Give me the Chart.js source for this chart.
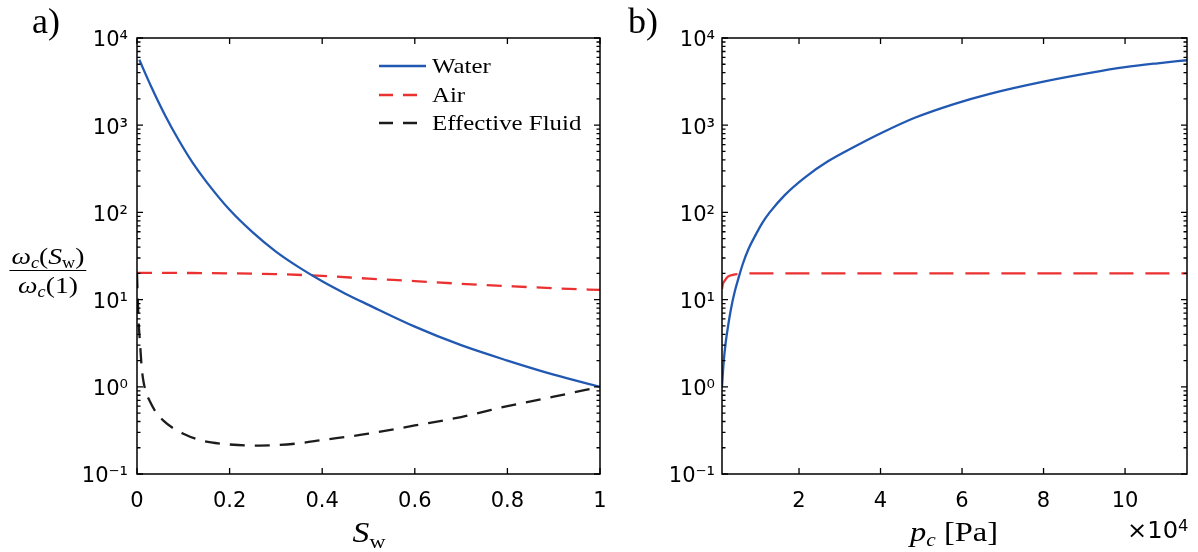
<!DOCTYPE html>
<html><head><meta charset="utf-8">
<script src="https://cdn.jsdelivr.net/npm/chart.js@4.4.1/dist/chart.umd.min.js"></script>
<style>
html,body{margin:0;padding:0;background:#fff;width:1198px;height:552px;overflow:hidden;position:relative;font-family:"Liberation Serif",serif;color:#000;}
#wa{position:absolute;left:0;top:0;width:610px;height:552px;}
#wb{position:absolute;left:610px;top:0;width:588px;height:552px;}
.lbl{position:absolute;white-space:nowrap;color:#000;line-height:1;}
.sub{font-size:66%;position:relative;top:0.28em;}
#legend{position:absolute;left:379px;top:52px;font-family:"Liberation Serif",serif;font-size:22px;}
#legend .row{height:28.5px;display:flex;align-items:center;}
#legend canvas{margin-right:6px;}
#legend span{display:inline-block;transform:scaleX(1.13);transform-origin:left center;}
</style></head><body>
<div id="wa"><canvas id="ca"></canvas></div>
<div id="wb"><canvas id="cb"></canvas></div>
<div class="lbl" style="left:32px;top:3px;font-size:36px;">a)</div>
<div class="lbl" style="left:628px;top:3px;font-size:36px;">b)</div>
<div class="lbl" style="left:48px;top:244px;font-size:24px;text-align:center;transform:translateX(-50%) scaleX(1.15);">
  <div style="padding:0 2px 2px 2px;"><i>ω</i><span class="sub"><i>c</i></span>(<i>S</i><span class="sub">w</span>)</div>
  <div style="border-top:1.4px solid #000;padding-top:2px;"><i>ω</i><span class="sub"><i>c</i></span>(1)</div>
</div>
<div class="lbl" style="left:369px;top:517px;font-size:30px;transform:translateX(-50%) scaleX(1.12);"><i>S</i><span class="sub">w</span></div>
<div class="lbl" style="left:954px;top:518px;font-size:28px;transform:translateX(-50%) scaleX(1.16);"><i>p</i><span class="sub"><i>c</i></span> [Pa]</div>
<div class="lbl" style="right:10px;top:518px;font-size:23px;font-family:'DejaVu Sans',sans-serif;transform:scaleX(1.05);transform-origin:right top;">×10<sup style="font-size:68%;vertical-align:0.45em;">4</sup></div>
<div id="legend"></div>
<script>
// ---------- data ----------
const seriesNames = ['Water', 'Air', 'Effective Fluid'];

const swWater = [0.005, 0.03, 0.06, 0.09, 0.12, 0.15, 0.2, 0.25, 0.3, 0.35, 0.4, 0.45, 0.5, 0.6, 0.7, 0.8, 0.9, 1.0];
const waterA  = [5620, 2820, 1320, 676, 372, 224, 107, 58.9, 35.5, 23.4, 16.2, 11.7, 8.7, 4.9, 3.0, 2.0, 1.38, 1.0];

const swAir = [0, 0.1, 0.2, 0.3, 0.4, 0.5, 0.6, 0.7, 0.8, 0.9, 1.0];
const airA  = [20.3, 20.2, 20.0, 19.6, 18.7, 17.4, 16.3, 15.2, 14.3, 13.5, 12.9];

const swEff = [0, 0.002, 0.004, 0.0065, 0.01, 0.014, 0.02, 0.028, 0.04, 0.057, 0.08, 0.1, 0.13, 0.16, 0.2, 0.25, 0.29, 0.35, 0.4, 0.5, 0.6, 0.7, 0.75, 0.8, 0.9, 1.0];
const effA  = [20, 9, 5, 3.2, 1.7, 1.15, 0.85, 0.68, 0.52, 0.41, 0.33, 0.29, 0.25, 0.23, 0.218, 0.212, 0.213, 0.225, 0.245, 0.29, 0.36, 0.45, 0.52, 0.6, 0.77, 1.0];

const pcWater = [1100, 1500, 2000, 2600, 3300, 4200, 5200, 6200, 7600, 9100, 11000, 12800, 16500, 21400, 27100, 33700, 40200, 48400, 58200, 66800, 80000, 91400, 100000, 108000, 115200];
const waterB  = [1, 1.9, 3.2, 5.0, 7.8, 12.2, 18, 25.6, 38, 52.5, 76, 100, 158, 251, 385, 569, 813, 1216, 1758, 2291, 3162, 3981, 4624, 5129, 5560];

const pcAir = [1100, 1300, 1740, 2550, 3780, 5840, 8000, 115200];
const airB  = [13.2, 15.0, 16.4, 18.3, 19.2, 19.7, 20, 20];

const xTicksA = [0, 0.2, 0.4, 0.6, 0.8, 1];
const xTicksB = [20000, 40000, 60000, 80000, 100000];
const xTickLabelsB = ['2', '4', '6', '8', '10'];
const yMajor  = [0.1, 1, 10, 100, 1000, 10000];
const yLabels = ['10⁻¹', '10⁰', '10¹', '10²', '10³', '10⁴'];

// ---------- styles ----------
const BLUE = '#2159b2', RED = '#ea3030', BLACK = '#1c1c1c';
const pts = (xs, ys) => xs.map((x, i) => ({x: x, y: ys[i]}));
const tickFont = {family: "'DejaVu Sans', sans-serif", size: 21};

const boxTicks = {
  id: 'boxTicks',
  afterDatasetsDraw(chart) {
    const {ctx, chartArea: a, scales: {x, y}} = chart;
    ctx.save();
    ctx.strokeStyle = '#000';
    ctx.lineWidth = 1.3;
    ctx.beginPath();
    y.ticks.forEach(t => {
      const p = y.getPixelForValue(t.value);
      const L = t.major ? 6 : 3.5;
      ctx.moveTo(a.left, p); ctx.lineTo(a.left + L, p);
      ctx.moveTo(a.right, p); ctx.lineTo(a.right - L, p);
    });
    x.ticks.forEach(t => {
      const p = x.getPixelForValue(t.value);
      ctx.moveTo(p, a.bottom); ctx.lineTo(p, a.bottom - 6);
      ctx.moveTo(p, a.top); ctx.lineTo(p, a.top + 6);
    });
    ctx.stroke();
    ctx.lineWidth = 1.5;
    ctx.strokeRect(a.left, a.top, a.right - a.left, a.bottom - a.top);
    ctx.restore();
  }
};

const noGrid = {display: false, drawTicks: false, tickLength: 0};

function yScale(width, pad) {
  return {
    type: 'logarithmic', min: 0.1, max: 10000,
    grid: noGrid, border: {display: false},
    afterBuildTicks(s) {
      const t = [];
      for (let k = 0; k < yMajor.length; k++) {
        t.push({value: yMajor[k], major: true});
        if (k < yMajor.length - 1) for (let m = 2; m <= 9; m++) t.push({value: m * yMajor[k], major: false});
      }
      s.ticks = t;
    },
    afterFit(s) { s.width = width; s.paddingTop = 0; s.paddingBottom = 0; },
    ticks: {
      autoSkip: false, padding: pad, color: '#000', font: tickFont, labelOffset: 3,
      callback(v) { const k = yMajor.indexOf(v); return k >= 0 ? yLabels[k] : ''; }
    }
  };
}

function xScale(min, max, tickVals, labelFn) {
  return {
    type: 'linear', min, max,
    grid: noGrid, border: {display: false},
    afterBuildTicks(s) { s.ticks = tickVals.map(v => ({value: v})); },
    afterFit(s) { s.height = 78; s.paddingLeft = 0; s.paddingRight = 0; },
    ticks: {autoSkip: false, padding: 15, color: '#000', font: tickFont, maxRotation: 0, minRotation: 0,
      callback: labelFn}
  };
}

function lineDs(label, data, color, dash, width) {
  return {label, data, borderColor: color, backgroundColor: color, borderWidth: width || 2.3,
    borderDash: dash || [], pointRadius: 0, pointHoverRadius: 0, fill: false,
    cubicInterpolationMode: 'monotone', tension: 0.4};
}

const chartA = new Chart(document.getElementById('ca'), {
  type: 'line',
  data: {datasets: [
    lineDs(seriesNames[0], pts(swWater, waterA), BLUE),
    lineDs(seriesNames[1], pts(swAir, airA), RED, [15, 10]),
    lineDs(seriesNames[2], pts(swEff, effA), BLACK, [15, 10])
  ]},
  options: {
    responsive: true, maintainAspectRatio: false, animation: false,
    layout: {padding: {left: 0, right: 10, top: 38, bottom: 0}},
    plugins: {legend: {display: false}, tooltip: {enabled: false}},
    scales: {
      x: xScale(0, 1, xTicksA, v => String(v)),
      y: yScale(137, 9)
    }
  },
  plugins: [boxTicks]
});

const chartB = new Chart(document.getElementById('cb'), {
  type: 'line',
  data: {datasets: [
    lineDs(seriesNames[0], pts(pcWater, waterB), BLUE),
    lineDs(seriesNames[1], pts(pcAir, airB), RED, [24, 12])
  ]},
  options: {
    responsive: true, maintainAspectRatio: false, animation: false,
    layout: {padding: {left: 0, right: 11, top: 38, bottom: 0}},
    plugins: {legend: {display: false}, tooltip: {enabled: false}},
    scales: {
      x: xScale(1100, 115200, xTicksB, v => { const k = xTicksB.indexOf(v); return k >= 0 ? xTickLabelsB[k] : ''; }),
      y: yScale(112, 7)
    }
  },
  plugins: [boxTicks]
});

// ---------- legend built from chart A datasets ----------
const leg = document.getElementById('legend');
chartA.data.datasets.forEach(ds => {
  const row = document.createElement('div');
  row.className = 'row';
  const c = document.createElement('canvas');
  c.width = 47; c.height = 12;
  const g = c.getContext('2d');
  g.strokeStyle = ds.borderColor; g.lineWidth = ds.borderWidth;
  g.setLineDash(ds.borderDash.length ? [14, 10] : []);
  g.beginPath(); g.moveTo(0, 6); g.lineTo(47, 6); g.stroke();
  const s = document.createElement('span');
  s.textContent = ds.label;
  row.appendChild(c); row.appendChild(s);
  leg.appendChild(row);
});
</script>
</body></html>
